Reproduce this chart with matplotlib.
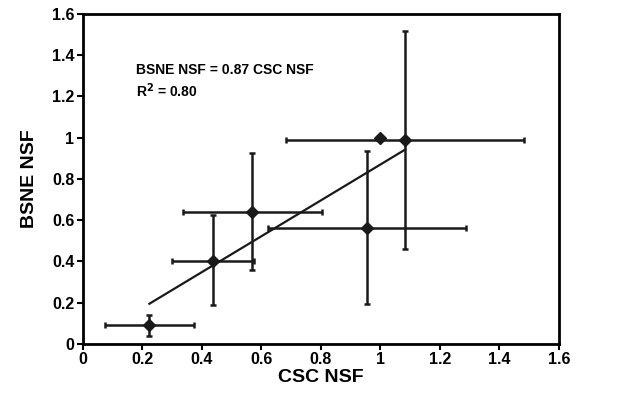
import matplotlib
matplotlib.use("Agg")
import matplotlib.pyplot as plt
import numpy as np

plt.rcParams['font.family'] = ['Liberation Sans', 'DejaVu Sans']
plt.rcParams['font.weight'] = 'bold'

csc = [0.224, 0.439, 0.570, 0.955, 1.083]
bsne = [0.092, 0.404, 0.639, 0.560, 0.989]
csc_lo = [0.075, 0.301, 0.336, 0.624, 0.684]
csc_hi = [0.375, 0.577, 0.805, 1.288, 1.481]
bsne_lo = [0.039, 0.189, 0.359, 0.194, 0.461]
bsne_hi = [0.141, 0.626, 0.926, 0.934, 1.519]
ref_point = (1.0, 1.0)
slope = 0.87

fig = plt.figure(figsize=(6.38, 3.99), dpi=100)
ax = fig.add_axes([0.1296, 0.138, 0.7466, 0.827])

x = np.array(csc); y = np.array(bsne)
xerr = [x - np.array(csc_lo), np.array(csc_hi) - x]
yerr = [y - np.array(bsne_lo), np.array(bsne_hi) - y]
ax.errorbar(x, y, xerr=xerr, yerr=yerr, fmt='D', color='#1a1a1a', ms=6,
            elinewidth=1.8, capsize=2.5, capthick=1.8, zorder=3)
ax.plot([ref_point[0]], [ref_point[1]], 'D', color='#1a1a1a', ms=6, zorder=3)
xf = np.array([min(csc), max(csc)])
ax.plot(xf, slope * xf, color='#1a1a1a', lw=1.6, zorder=2)

ax.text(0.18, 1.327, 'BSNE NSF = 0.87 CSC NSF', fontsize=10, fontweight='bold', va='center')
ax.text(0.18, 1.228, 'R$^\\mathbf{2}$ = 0.80', fontsize=10, fontweight='bold', va='center')

ax.set_xlim(0, 1.6); ax.set_ylim(0, 1.6)
ticks = [0, 0.2, 0.4, 0.6, 0.8, 1, 1.2, 1.4, 1.6]
labels = ['0', '0.2', '0.4', '0.6', '0.8', '1', '1.2', '1.4', '1.6']
ax.set_xticks(ticks); ax.set_xticklabels(labels)
ax.set_yticks(ticks); ax.set_yticklabels(labels)
ax.tick_params(labelsize=11.5, width=1.5, length=4, direction='out', pad=2)
for s in ax.spines.values():
    s.set_linewidth(2)
ax.set_xlabel('CSC NSF', fontsize=14, fontweight='bold', labelpad=1)
ax.set_ylabel('BSNE NSF', fontsize=14, fontweight='bold', labelpad=10)

fig.savefig('out.png', dpi=100)
